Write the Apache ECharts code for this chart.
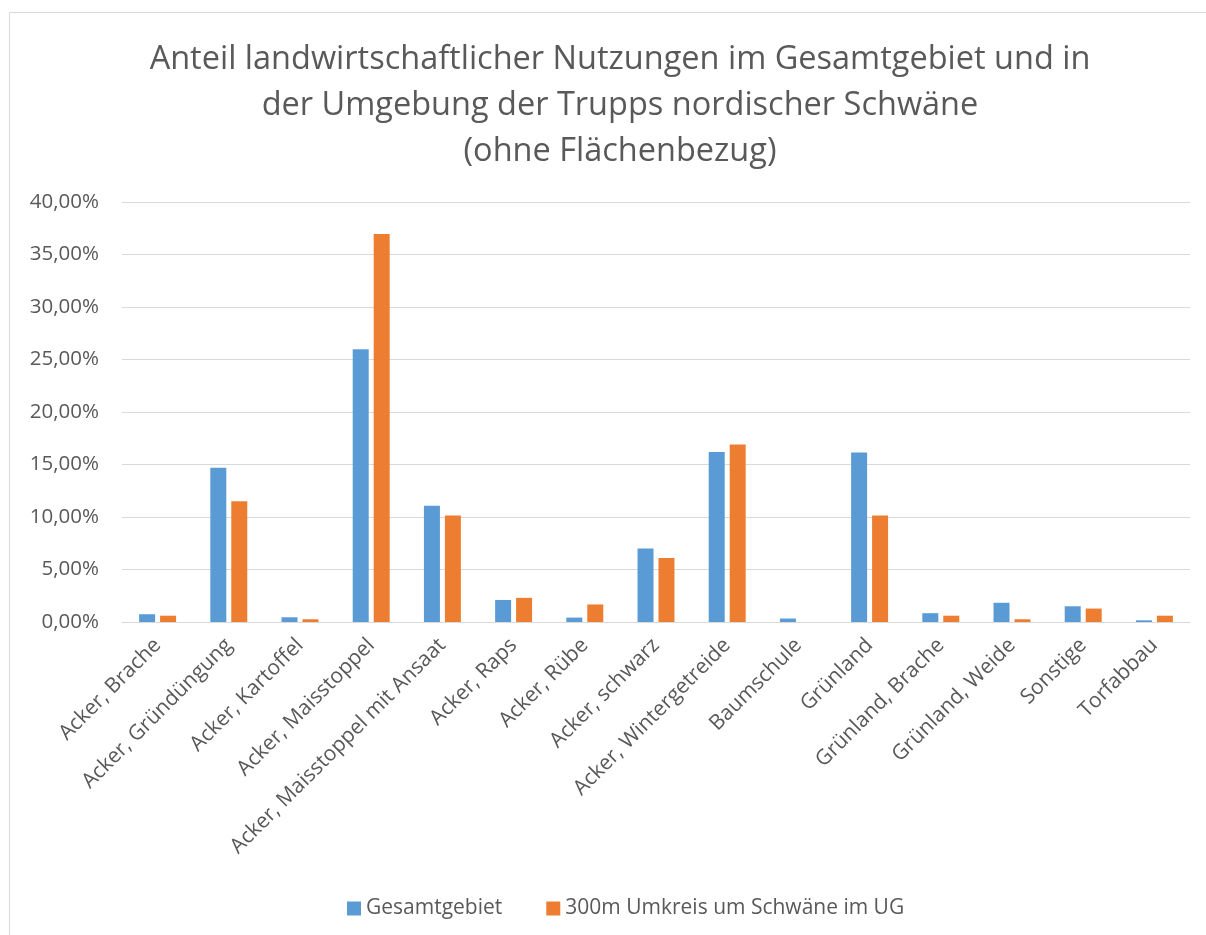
<!DOCTYPE html>
<html>
<head>
<meta charset="utf-8">
<script src="https://cdn.jsdelivr.net/npm/echarts@6/dist/echarts.min.js"></script>
<style>
html,body{margin:0;padding:0;background:#fff;}
#main{width:1206px;height:935px;}
</style>
</head>
<body>
<div id="main"></div>
<script>
var categories = ["Acker, Brache","Acker, Gründüngung","Acker, Kartoffel","Acker, Maisstoppel","Acker, Maisstoppel mit Ansaat","Acker, Raps","Acker, Rübe","Acker, schwarz","Acker, Wintergetreide","Baumschule","Grünland","Grünland, Brache","Grünland, Weide","Sonstige","Torfabbau"];
var gesamtgebiet = [0.74, 14.68, 0.45, 25.98, 11.08, 2.10, 0.42, 7.00, 16.20, 0.33, 16.14, 0.84, 1.83, 1.50, 0.16];
var umkreis = [0.60, 11.49, 0.26, 36.96, 10.15, 2.30, 1.67, 6.10, 16.90, 0.00, 10.15, 0.60, 0.26, 1.28, 0.60];
var seriesNames = ["Gesamtgebiet", "300m Umkreis um Schwäne im UG"];
var titleText = "Anteil landwirtschaftlicher Nutzungen im Gesamtgebiet und in\nder Umgebung der Trupps nordischer Schwäne\n(ohne Flächenbezug)";

var font = "'Open Sans', 'Noto Sans', sans-serif";
var chart = echarts.init(document.getElementById('main'));
chart.setOption({
  animation: false,
  backgroundColor: '#fff',
  graphic: [{
    type: 'rect', shape: {x: 9.5, y: 12.5, width: 1210, height: 930},
    style: {fill: 'none', stroke: '#d9d9d9', lineWidth: 1}, silent: true
  }],
  title: {
    text: titleText, left: 615, top: 32, textAlign: 'center',
    textStyle: {fontFamily: font, fontSize: 32.5, fontWeight: 'normal', color: '#595959', lineHeight: 46}
  },
  legend: {
    bottom: 11, left: 342, itemWidth: 14, itemHeight: 14, itemGap: 44,
    icon: 'rect',
    textStyle: {fontFamily: font, fontSize: 21, color: '#595959', padding: [0, 0, 0, 0]},
    data: seriesNames
  },
  grid: {left: 122, right: 16, top: 202, bottom: 313, containLabel: false},
  xAxis: {
    type: 'category', data: categories,
    axisLine: {lineStyle: {color: '#d9d9d9', width: 1}},
    axisTick: {show: false},
    axisLabel: {rotate: 45, interval: 0, fontFamily: font, fontSize: 21, color: '#595959', margin: 20}
  },
  yAxis: {
    type: 'value', min: 0, max: 40, interval: 5,
    axisLine: {show: false}, axisTick: {show: false},
    splitLine: {lineStyle: {color: '#d9d9d9', width: 1}},
    axisLabel: {fontFamily: font, fontSize: 20.5, color: '#595959', margin: 23,
      formatter: function (v) { return v.toFixed(2).replace('.', ',') + '%'; }}
  },
  series: [
    {name: seriesNames[0], type: 'bar', data: gesamtgebiet, barWidth: 16, barGap: '31%',
     itemStyle: {color: '#5b9bd5'}},
    {name: seriesNames[1], type: 'bar', data: umkreis, barWidth: 16,
     itemStyle: {color: '#ed7d31'}}
  ]
});
</script>
</body>
</html>
